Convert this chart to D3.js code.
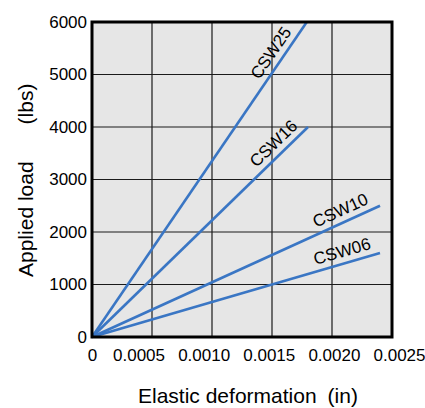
<!DOCTYPE html>
<html>
<head>
<meta charset="utf-8">
<script src="https://cdn.jsdelivr.net/npm/d3@7"></script>
<style>
  html, body { margin: 0; padding: 0; background: #fff; }
  text { font-family: Arial, "Liberation Sans", Helvetica, sans-serif; fill: #000; }
</style>
</head>
<body>
<svg id="chart" width="425" height="408"></svg>
<script>
// ---- data ----
const seriesNames = ["CSW25", "CSW16", "CSW10", "CSW06"];
const endDeformation = [0.00179, 0.0018, 0.0024, 0.0024];   // in
const endLoad = [6000, 4000, 2500, 1600];                   // lbs
const xTickValues = [0, 0.0005, 0.0010, 0.0015, 0.0020, 0.0025];
const xTickLabels = ["0", "0.0005", "0.0010", "0.0015", "0.0020", "0.0025"];
const yTickValues = [0, 1000, 2000, 3000, 4000, 5000, 6000];
const yTickLabels = ["0", "1000", "2000", "3000", "4000", "5000", "6000"];

// ---- layout ----
const svg = d3.select("#chart");
const m = { left: 92, right: 392, top: 22, bottom: 337 };
const x = d3.scaleLinear().domain([0, 0.0025]).range([m.left, m.right]);
const y = d3.scaleLinear().domain([0, 6000]).range([m.bottom, m.top]);
// the original's x tick labels are set a little wider than the grid
const xLabel = d3.scaleLinear().domain([0, 0.0005, 0.0025]).range([m.left, 138.5, 399]);

// background
svg.append("rect")
  .attr("x", m.left).attr("y", m.top)
  .attr("width", m.right - m.left).attr("height", m.bottom - m.top)
  .attr("fill", "#e6e6e6");

// grid
svg.append("g").selectAll("line").data(xTickValues.slice(1, -1)).join("line")
  .attr("x1", d => x(d)).attr("x2", d => x(d))
  .attr("y1", m.top).attr("y2", m.bottom)
  .attr("stroke", "#1a1a1a").attr("stroke-width", 1.2);
svg.append("g").selectAll("line").data(yTickValues.slice(1, -1)).join("line")
  .attr("y1", d => y(d)).attr("y2", d => y(d))
  .attr("x1", m.left).attr("x2", m.right)
  .attr("stroke", "#1a1a1a").attr("stroke-width", 1.2);

// axes (labels only)
const xAxis = d3.axisBottom(xLabel).tickValues(xTickValues)
  .tickFormat((d, i) => xTickLabels[i]).tickSize(0).tickPadding(12);
const gx = svg.append("g").attr("transform", `translate(0,${m.bottom})`).call(xAxis);
gx.select(".domain").remove();
gx.selectAll("text").attr("font-size", 17).attr("font-family", "Arial, 'Liberation Sans', sans-serif");

const yAxis = d3.axisLeft(y).tickValues(yTickValues)
  .tickFormat((d, i) => yTickLabels[i]).tickSize(0).tickPadding(5);
const gy = svg.append("g").attr("transform", `translate(${m.left},0)`).call(yAxis);
gy.select(".domain").remove();
gy.selectAll("text").attr("font-size", 17).attr("font-family", "Arial, 'Liberation Sans', sans-serif");

// lines
const lineGen = d3.line().x(d => x(d[0])).y(d => y(d[1]));
const series = seriesNames.map((name, i) => ({
  name, pts: [[0, 0], [endDeformation[i], endLoad[i]]]
}));
svg.append("g").selectAll("path").data(series).join("path")
  .attr("d", d => lineGen(d.pts))
  .attr("fill", "none")
  .attr("stroke", "#3a76c4")
  .attr("stroke-width", 2.6);

// line labels
const frac = 0.88, off = 12;
svg.append("g").selectAll("text").data(series).join("text")
  .each(function(d) {
    const x0 = x(d.pts[0][0]), y0 = y(d.pts[0][1]);
    const x1 = x(d.pts[1][0]), y1 = y(d.pts[1][1]);
    const dx = x1 - x0, dy = y1 - y0, len = Math.hypot(dx, dy);
    const ux = dx / len, uy = dy / len;
    const nx = uy, ny = -ux; // perpendicular (up-left)
    const cx = x0 + dx * frac + nx * off, cy = y0 + dy * frac + ny * off;
    const ang = Math.atan2(dy, dx) * 180 / Math.PI;
    d3.select(this)
      .attr("transform", `translate(${cx},${cy}) rotate(${ang})`)
      .attr("text-anchor", "middle")
      .attr("dominant-baseline", "central")
      .attr("font-size", 17)
      .text(d.name);
  });

// frame
svg.append("rect")
  .attr("x", m.left).attr("y", m.top)
  .attr("width", m.right - m.left).attr("height", m.bottom - m.top)
  .attr("fill", "none").attr("stroke", "#000").attr("stroke-width", 3);

// axis titles
const xt = svg.append("text")
  .attr("x", 138).attr("y", 403)
  .attr("text-anchor", "start")
  .attr("font-size", 21);
xt.append("tspan").text("Elastic deformation");
xt.append("tspan").attr("dx", 11).text("(in)");

const yt = svg.append("text")
  .attr("transform", "translate(33,277) rotate(-90)")
  .attr("text-anchor", "start")
  .attr("font-size", 21);
yt.append("tspan").text("Applied load");
yt.append("tspan").attr("dx", 37).text("(lbs)");
</script>
</body>
</html>
